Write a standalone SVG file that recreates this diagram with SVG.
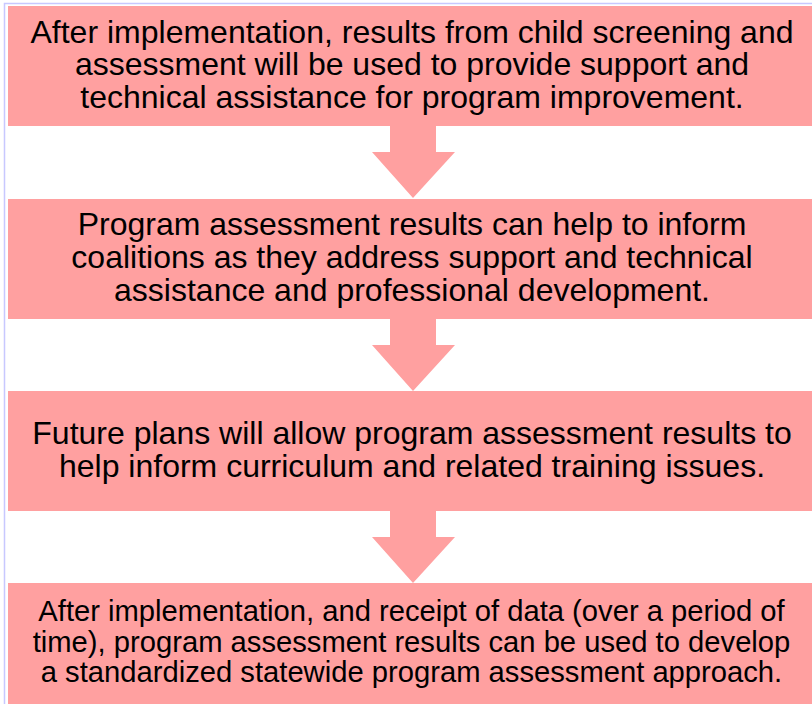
<svg xmlns="http://www.w3.org/2000/svg" width="812" height="704" viewBox="0 0 812 704">
<style>
.box{fill:#FFA0A0;}
.arr{fill:#FFA0A0;}
.t{font-family:"Liberation Sans",Arial,sans-serif;font-size:32px;fill:#000;text-anchor:middle;}
.t4{font-size:29.2px;}
.frame{fill:none;stroke:#C8C8FF;stroke-width:1.5;}
</style>
<rect x="0" y="0" width="812" height="704" fill="#fff"/>
<path class="frame" d="M4.5,704 V3.5 H812"/>
<g id="connectors">
<polygon class="arr" points="390,126 436,126 436,152 455,152 413,198 372,152 390,152"/>
<polygon class="arr" points="390,319 436,319 436,345 455,345 413,391 372,345 390,345"/>
<polygon class="arr" points="390,511 436,511 436,537 455,537 413,583 372,537 390,537"/>
</g>
<g id="node1">
<rect class="box" x="8" y="6" width="804" height="120"/>
<text class="t" x="412" y="42.5">After implementation, results from child screening and</text>
<text class="t" x="412" y="75">assessment will be used to provide support and</text>
<text class="t" x="412" y="107.5">technical assistance for program improvement.</text>
</g>
<g id="node2">
<rect class="box" x="8" y="199" width="804" height="120"/>
<text class="t" x="412" y="235">Program assessment results can help to inform</text>
<text class="t" x="412" y="268">coalitions as they address support and technical</text>
<text class="t" x="412" y="301">assistance and professional development.</text>
</g>
<g id="node3">
<rect class="box" x="8" y="391" width="804" height="120"/>
<text class="t" x="412" y="444">Future plans will allow program assessment results to</text>
<text class="t" x="412" y="477">help inform curriculum and related training issues.</text>
</g>
<g id="node4">
<rect class="box" x="8" y="583" width="804" height="121"/>
<text class="t t4" x="411.5" y="621">After implementation, and receipt of data (over a period of</text>
<text class="t t4" x="411.5" y="652">time), program assessment results can be used to develop</text>
<text class="t t4" x="411.5" y="682">a standardized statewide program assessment approach.</text>
</g>
</svg>
